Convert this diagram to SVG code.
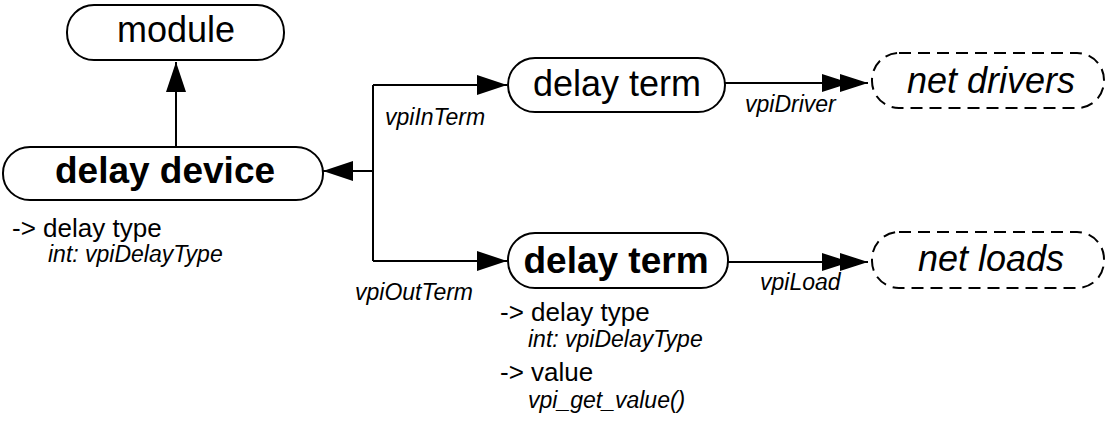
<svg xmlns="http://www.w3.org/2000/svg" width="1107" height="427" viewBox="0 0 1107 427">
<defs>
<style>
.node{fill:#fff;stroke:#000;stroke-width:2}
.dash{fill:#fff;stroke:#000;stroke-width:2;stroke-dasharray:12 7}
.t{font-family:"Liberation Sans",Arial,sans-serif;fill:#000}
.big{font-size:36px;text-anchor:middle}
.bold{font-weight:bold;font-size:37px;text-anchor:middle}
.it{font-style:italic}
.lbl{font-size:23px;font-style:italic}
.attr{font-size:26px}
.attri{font-size:23px;font-style:italic}
.edge{fill:none;stroke:#000;stroke-width:2}
</style>
<marker id="arr" markerUnits="userSpaceOnUse" markerWidth="30" markerHeight="20" refX="30" refY="10" orient="auto" overflow="visible">
<path d="M0,0 L30,10 L0,20 z" fill="#000"/>
</marker>
<marker id="arr2" markerUnits="userSpaceOnUse" markerWidth="46" markerHeight="18" refX="46" refY="9" orient="auto" overflow="visible">
<path d="M0,0 L28,9 L0,18 z M18,0 L46,9 L18,18 z" fill="#000"/>
</marker>
</defs>
<rect width="1107" height="427" fill="#fff"/>
<g id="connectors">
<path class="edge" d="M176,147 V62" marker-end="url(#arr)"/>
<path class="edge" d="M373,171 H323" marker-end="url(#arr)"/>
<path class="edge" d="M373,85 V261"/>
<path class="edge" d="M373,85 H507" marker-end="url(#arr)"/>
<path class="edge" d="M373,261 H507" marker-end="url(#arr)"/>
<path class="edge" d="M725,83 H868" marker-end="url(#arr2)"/>
<path class="edge" d="M728,262 H868" marker-end="url(#arr2)"/>
<text class="t lbl" x="385" y="125">vpiInTerm</text>
<text class="t lbl" x="355" y="300">vpiOutTerm</text>
<text class="t lbl" x="745" y="112">vpiDriver</text>
<text class="t lbl" x="760" y="290">vpiLoad</text>
</g>
<g id="module">
<rect class="node" x="67" y="5" width="217" height="55" rx="27" ry="27"/>
<text class="t big" x="176" y="42">module</text>
</g>
<g id="delay-device">
<rect class="node" x="3" y="147" width="320" height="53" rx="27" ry="26"/>
<text class="t bold" x="165" y="183">delay device</text>
<text class="t attr" x="12" y="237">-&gt; delay type</text>
<text class="t attri" x="48" y="262">int: vpiDelayType</text>
</g>
<g id="delay-term-in">
<rect class="node" x="508" y="58" width="217" height="54" rx="27" ry="27"/>
<text class="t big" x="617" y="96">delay term</text>
</g>
<g id="delay-term-out">
<rect class="node" x="508" y="233" width="220" height="55" rx="27" ry="27"/>
<text class="t bold" x="616" y="273">delay term</text>
<text class="t attr" x="500" y="321">-&gt; delay type</text>
<text class="t attri" x="528" y="347">int: vpiDelayType</text>
<text class="t attr" x="500" y="381">-&gt; value</text>
<text class="t attri" x="528" y="408">vpi_get_value()</text>
</g>
<g id="net-drivers">
<rect class="dash" x="872" y="53" width="232" height="55" rx="27" ry="27"/>
<text class="t big it" x="991" y="93">net drivers</text>
</g>
<g id="net-loads">
<rect class="dash" x="872" y="232" width="232" height="56" rx="27" ry="27"/>
<text class="t big it" x="991" y="271">net loads</text>
</g>
</svg>
